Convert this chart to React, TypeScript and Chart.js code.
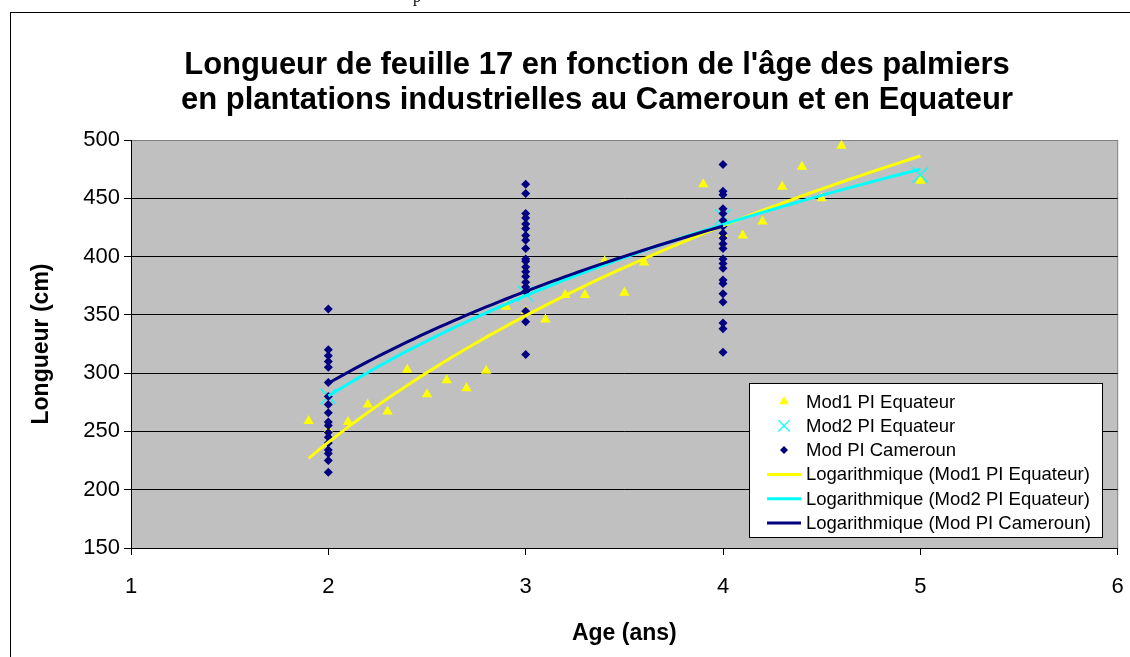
import React, { useEffect, useRef } from "react";
import { Chart, registerables } from "chart.js";

Chart.register(...registerables);

// ---------- texts ----------
const titleLines = [
  "Longueur de feuille 17 en fonction de l'âge des palmiers",
  "en plantations industrielles au Cameroun et en Equateur",
];
const xAxisTitle = "Age (ans)";
const yAxisTitle = "Longueur (cm)";
const seriesLabels = ["Mod1 PI Equateur", "Mod2 PI Equateur", "Mod PI Cameroun"];
const trendLabels = [
  "Logarithmique (Mod1 PI Equateur)",
  "Logarithmique (Mod2 PI Equateur)",
  "Logarithmique (Mod PI Cameroun)",
];

// ---------- ticks ----------
const xTicks = [1, 2, 3, 4, 5, 6];
const yTicks = [150, 200, 250, 300, 350, 400, 450, 500];

// ---------- data ----------
const mod1Age = [1.9, 2.0, 2.1, 2.2, 2.3, 2.4, 2.5, 2.6, 2.7, 2.8, 2.9, 3.0, 3.1, 3.2, 3.3, 3.4, 3.5, 3.6, 3.9, 4.0, 4.1, 4.2, 4.3, 4.4, 4.5, 4.6, 5.0];
const mod1Len = [259, 251, 258, 273, 267, 303, 282, 294, 287, 302, 357, 353, 346, 367, 367, 396, 369, 395, 462, 419, 418, 430, 460, 477, 450, 495, 465];

const mod2Age = [2, 3, 4, 5];
const mod2Len = [280, 368, 434, 470];

const cameroun2ans = [355, 320, 315, 310, 305, 292, 280, 273, 266, 258, 255, 249, 245, 240, 234, 231, 225, 215];
const cameroun3ans = [462, 454, 437, 433, 428, 424, 418, 414, 407, 398, 396, 391, 387, 383, 378, 374, 370, 353, 344, 316];
const cameroun4ans = [479, 456, 453, 441, 437, 431, 426, 420, 416, 411, 407, 398, 394, 390, 380, 377, 368, 361, 343, 338, 318];

// logarithmic trend lines y = a*ln(x) + b (coefficients)
const trendA = [268.0, 212.3, 194.6];
const trendB = [54.9, 133.2, 156.4];

const FONT = "'Liberation Sans', Arial, sans-serif";
const YELLOW = "#FFFF00";
const CYAN = "#00FFFF";
const NAVY = "#000080";

function trendPoints(ages: number[], a: number, b: number) {
  const lo = Math.min(...ages);
  const hi = Math.max(...ages);
  const n = 60;
  const pts: { x: number; y: number }[] = [];
  for (let i = 0; i <= n; i++) {
    const x = lo + ((hi - lo) * i) / n;
    pts.push({ x, y: a * Math.log(x) + b });
  }
  return pts;
}

function drawMarker(ctx: CanvasRenderingContext2D, kind: string, x: number, y: number, r: number) {
  ctx.save();
  if (kind === "triangle") {
    ctx.fillStyle = YELLOW;
    ctx.beginPath();
    ctx.moveTo(x, y - r);
    ctx.lineTo(x + r * 0.866, y + r * 0.5);
    ctx.lineTo(x - r * 0.866, y + r * 0.5);
    ctx.closePath();
    ctx.fill();
  } else if (kind === "cross") {
    ctx.strokeStyle = CYAN;
    ctx.lineWidth = 1.2;
    const d = r * 0.7071;
    ctx.beginPath();
    ctx.moveTo(x - d, y - d);
    ctx.lineTo(x + d, y + d);
    ctx.moveTo(x + d, y - d);
    ctx.lineTo(x - d, y + d);
    ctx.stroke();
  } else if (kind === "diamond") {
    ctx.fillStyle = NAVY;
    ctx.beginPath();
    ctx.moveTo(x, y - r);
    ctx.lineTo(x + r, y);
    ctx.lineTo(x, y + r);
    ctx.lineTo(x - r, y);
    ctx.closePath();
    ctx.fill();
  }
  ctx.restore();
}

const decorPlugin = {
  id: "decor",
  beforeDraw(chart: any) {
    const { ctx, chartArea } = chart;
    ctx.save();
    // outer chart frame
    ctx.strokeStyle = "#000";
    ctx.lineWidth = 1;
    ctx.strokeRect(10.5, 12.5, 1200, 700);
    // plot area
    ctx.fillStyle = "#C0C0C0";
    ctx.fillRect(chartArea.left, chartArea.top, chartArea.right - chartArea.left, chartArea.bottom - chartArea.top);
    ctx.strokeStyle = "#808080";
    ctx.strokeRect(chartArea.left + 0.5, chartArea.top + 0.5, chartArea.right - chartArea.left - 0.5, chartArea.bottom - chartArea.top);
    ctx.restore();
  },
  afterDraw(chart: any) {
    const { ctx } = chart;
    ctx.save();
    // title
    ctx.fillStyle = "#000";
    ctx.font = `bold 31px ${FONT}`;
    ctx.textAlign = "center";
    ctx.textBaseline = "middle";
    ctx.fillText(titleLines[0], 597, 65);
    ctx.fillText(titleLines[1], 597, 100);

    // legend
    const bx = 749.5, by = 383.5, bw = 353, bh = 154;
    ctx.fillStyle = "#FFFFFF";
    ctx.fillRect(bx, by, bw, bh);
    ctx.strokeStyle = "#000";
    ctx.lineWidth = 1;
    ctx.strokeRect(bx, by, bw, bh);
    const kinds = ["triangle", "cross", "diamond"];
    const colors = [YELLOW, CYAN, NAVY];
    const labels = [...seriesLabels, ...trendLabels];
    ctx.font = `18.5px ${FONT}`;
    ctx.textAlign = "left";
    ctx.textBaseline = "middle";
    for (let i = 0; i < 6; i++) {
      const cy = 401.5 + i * 24.3;
      if (i < 3) {
        drawMarker(ctx, kinds[i], 784, cy, i === 2 ? 4 : i === 1 ? 8 : 5.5);
      } else {
        ctx.strokeStyle = colors[i - 3];
        ctx.lineWidth = 3;
        ctx.beginPath();
        ctx.moveTo(767, cy);
        ctx.lineTo(801, cy);
        ctx.stroke();
      }
      ctx.fillStyle = "#000";
      ctx.fillText(labels[i], 806, cy + 1);
    }
    ctx.restore();
  },
};

export default function App() {
  const ref = useRef<HTMLCanvasElement | null>(null);

  useEffect(() => {
    if (!ref.current) return;
    const camPts = [
      ...cameroun2ans.map((y) => ({ x: 2, y })),
      ...cameroun3ans.map((y) => ({ x: 3, y })),
      ...cameroun4ans.map((y) => ({ x: 4, y })),
    ];
    const camAges = camPts.map((p) => p.x);

    const chart = new Chart(ref.current, {
      type: "scatter",
      data: {
        datasets: [
          {
            label: trendLabels[2],
            type: "line",
            data: trendPoints(camAges, trendA[2], trendB[2]),
            borderColor: NAVY,
            borderWidth: 3,
            pointRadius: 0,
            showLine: true,
            fill: false,
            order: 0,
          },
          {
            label: trendLabels[1],
            type: "line",
            data: trendPoints(mod2Age, trendA[1], trendB[1]),
            borderColor: CYAN,
            borderWidth: 3,
            pointRadius: 0,
            showLine: true,
            fill: false,
            order: 1,
          },
          {
            label: trendLabels[0],
            type: "line",
            data: trendPoints(mod1Age, trendA[0], trendB[0]),
            borderColor: YELLOW,
            borderWidth: 3,
            pointRadius: 0,
            showLine: true,
            fill: false,
            order: 2,
          },
          {
            label: seriesLabels[2],
            data: camPts,
            pointStyle: "rectRot",
            pointRadius: 4.5,
            backgroundColor: NAVY,
            borderColor: NAVY,
            borderWidth: 0,
            order: 3,
          },
          {
            label: seriesLabels[1],
            data: mod2Age.map((x, i) => ({ x, y: mod2Len[i] })),
            pointStyle: "crossRot",
            pointRadius: 11,
            borderColor: CYAN,
            backgroundColor: CYAN,
            borderWidth: 1.3,
            order: 4,
          },
          {
            label: seriesLabels[0],
            data: mod1Age.map((x, i) => ({ x, y: mod1Len[i] })),
            pointStyle: "triangle",
            pointRadius: 6,
            backgroundColor: YELLOW,
            borderColor: YELLOW,
            borderWidth: 0,
            order: 5,
          },
        ],
      },
      options: {
        animation: false,
        responsive: false,
        devicePixelRatio: 1,
        layout: { padding: { top: 140, right: 11, left: 0, bottom: 0 } },
        plugins: {
          legend: { display: false },
          title: { display: false },
          tooltip: { enabled: false },
        },
        scales: {
          x: {
            type: "linear",
            min: 1,
            max: 6,
            afterBuildTicks: (s: any) => {
              s.ticks = xTicks.map((v) => ({ value: v }));
            },
            afterFit: (s: any) => {
              s.height = 109;
              s.paddingLeft = 0;
              s.paddingRight = 0;
            },
            ticks: {
              font: { family: FONT, size: 22 },
              color: "#000",
              padding: 19,
            },
            grid: {
              drawOnChartArea: false,
              drawTicks: true,
              tickLength: 7,
              tickColor: "#000",
            },
            border: { color: "#000", width: 1 },
            title: {
              display: true,
              text: xAxisTitle,
              font: { family: FONT, size: 23, weight: "bold" },
              color: "#000",
              padding: { top: 0, bottom: 10 },
            },
          },
          y: {
            type: "linear",
            min: 150,
            max: 500,
            afterBuildTicks: (s: any) => {
              s.ticks = yTicks.map((v) => ({ value: v }));
            },
            afterFit: (s: any) => {
              s.width = 131;
            },
            ticks: {
              font: { family: FONT, size: 22 },
              color: "#000",
              padding: 4,
            },
            grid: {
              color: (c: any) => (c.tick && c.tick.value === 500 ? "#808080" : "#000"),
              lineWidth: 1,
              drawTicks: true,
              tickLength: 7,
              tickColor: "#000",
            },
            border: { color: "#000", width: 1 },
            title: {
              display: true,
              text: yAxisTitle,
              font: { family: FONT, size: 23, weight: "bold" },
              color: "#000",
              padding: { top: 28, bottom: 0 },
            },
          },
        },
      },
      plugins: [decorPlugin],
    } as any);

    return () => chart.destroy();
  }, []);

  return (
    <div style={{ position: "absolute", left: 0, top: 0, width: 1130, height: 657, background: "#fff", overflow: "hidden" }}>
      <span
        style={{
          position: "absolute",
          left: 413,
          top: -11,
          fontFamily: "'Liberation Serif', 'Times New Roman', serif",
          fontSize: 16,
          lineHeight: "16px",
        }}
      >
        p
      </span>
      <canvas ref={ref} width={1130} height={657} style={{ display: "block" }} />
    </div>
  );
}
